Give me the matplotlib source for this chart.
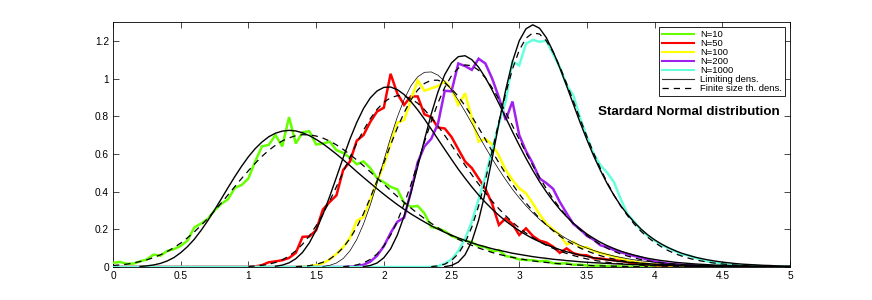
import numpy as np
import matplotlib
matplotlib.use("Agg")
import matplotlib.pyplot as plt

STEP = 0.05
X_MIN, X_MAX = 0.0, 5.0
series_names = ["N=10", "N=50", "N=100", "N=200", "N=1000"]
series_colors = ["#66ff00", "#ff0000", "#ffff00", "#a020f0", "#66ffdd"]

# empirical histograms (start x, values); zero outside the listed range
hist10_start = 0.0
hist10 = [0.022, 0.027, 0.017, 0.018, 0.030, 0.040, 0.066, 0.060, 0.085, 0.095,
          0.112, 0.140, 0.210, 0.230, 0.255, 0.300, 0.335, 0.360, 0.420, 0.435,
          0.470, 0.560, 0.640, 0.648, 0.700, 0.640, 0.795, 0.655, 0.715, 0.720,
          0.650, 0.655, 0.665, 0.620, 0.605, 0.580, 0.545, 0.560, 0.525, 0.470,
          0.450, 0.425, 0.412, 0.340, 0.320, 0.324, 0.285, 0.212, 0.205, 0.190,
          0.165, 0.150, 0.140, 0.132, 0.110, 0.106, 0.082, 0.090, 0.058, 0.052,
          0.040, 0.037, 0.036, 0.030, 0.033, 0.020, 0.018, 0.020, 0.012, 0.012,
          0.008, 0.006, 0.008, 0.004, 0.004, 0.003, 0.002, 0.002, 0.001, 0.002]
hist50_start = 1.05
hist50 = [0.003, 0.010, 0.025, 0.030, 0.036, 0.048, 0.075, 0.160, 0.162, 0.195,
          0.305, 0.345, 0.380, 0.515, 0.560, 0.670, 0.700, 0.770, 0.825, 0.845,
          1.025, 0.920, 0.860, 0.905, 0.905, 0.810, 0.795, 0.740, 0.735, 0.690,
          0.625, 0.560, 0.525, 0.470, 0.415, 0.335, 0.223, 0.258, 0.228, 0.170,
          0.205, 0.165, 0.140, 0.130, 0.108, 0.075, 0.099, 0.073, 0.064, 0.062,
          0.046, 0.045, 0.040, 0.036, 0.033, 0.026, 0.020, 0.016, 0.013, 0.010,
          0.008, 0.006, 0.004, 0.003, 0.002]
hist100_start = 1.40
hist100 = [0.002, 0.004, 0.010, 0.020, 0.040, 0.070, 0.105, 0.155, 0.245, 0.265,
           0.355, 0.455, 0.540, 0.655, 0.765, 0.780, 0.885, 0.990, 0.935, 0.948,
           0.960, 0.984, 0.945, 0.860, 0.922, 0.790, 0.665, 0.680, 0.650, 0.590,
           0.515, 0.462, 0.418, 0.391, 0.338, 0.280, 0.230, 0.200, 0.170, 0.120,
           0.134, 0.105, 0.105, 0.085, 0.074, 0.065, 0.055, 0.045, 0.034, 0.028,
           0.022, 0.016, 0.014, 0.011, 0.009, 0.006, 0.005, 0.004, 0.003, 0.002]
hist200_start = 1.75
hist200 = [0.002, 0.005, 0.012, 0.028, 0.060, 0.110, 0.180, 0.240, 0.262, 0.400,
           0.555, 0.640, 0.680, 0.760, 0.935, 0.932, 1.080, 1.066, 1.046, 1.105,
           1.080, 1.000, 0.900, 0.780, 0.878, 0.700, 0.615, 0.550, 0.470, 0.445,
           0.415, 0.345, 0.285, 0.228, 0.200, 0.165, 0.145, 0.115, 0.105, 0.090,
           0.078, 0.068, 0.058, 0.050, 0.038, 0.030, 0.023, 0.018, 0.014, 0.012,
           0.009, 0.007, 0.005, 0.004, 0.003, 0.002]
hist1000_start = 2.35
hist1000 = [0.001, 0.004, 0.018, 0.040, 0.085, 0.150, 0.240, 0.360, 0.480, 0.620,
            0.760, 0.880, 1.090, 1.070, 1.185, 1.205, 1.195, 1.200, 1.130, 1.060,
            0.965, 0.910, 0.790, 0.690, 0.600, 0.540, 0.500, 0.450, 0.360, 0.280,
            0.240, 0.195, 0.165, 0.140, 0.117, 0.100, 0.085, 0.066, 0.062, 0.048,
            0.037, 0.028, 0.022, 0.016, 0.013, 0.010, 0.008, 0.006, 0.005, 0.004,
            0.003, 0.002, 0.002, 0.001]

# finite-size theoretical densities (values x1000)
fin10_start = 0.0
fin10 = [8,11,15,21,29,38,50,65,82,103,127,155,186,221,258,298,340,383,427,470,511,550,587,619,646,669,685,697,702,701,695,684,668,648,624,597,568,537,505,472,439,406,374,343,313,284,257,232,208,186,166,147,130,115,101,89,77,67,59,51,44,38,32,28,24,20,17,15,12,10,9,7,6,5,4,4,3,2,2,2]
fin50_start = 1.0
fin50 = [3,5,9,15,24,38,58,86,121,165,219,281,350,426,504,582,657,726,787,837,874,898,909,907,893,869,835,794,748,698,646,593,540,489,440,393,349,309,272,238,207,180,156,134,115,99,84,72,61,51,43,36,30,25,21,18,15,12,10,8,7,5,4,4,3,2,2,2]
fin100_start = 1.35
fin100 = [2,4,7,14,25,42,67,103,151,211,283,367,458,553,648,738,819,887,939,974,991,991,976,946,905,855,799,739,677,614,553,495,439,388,340,297,258,223,192,164,140,119,101,85,72,60,50,42,35,29,24,20,16,13,11,9,7,6,5,4,3,2,2,2]
fin200_start = 1.70
fin200 = [2,5,11,22,40,69,111,169,243,334,437,549,663,772,871,953,1015,1055,1072,1068,1044,1004,951,889,821,750,677,607,539,475,416,362,313,269,230,196,167,141,119,99,83,69,58,48,39,32,27,22,18,14,12,10,8,6,5,4,3,3,2,2]
fin1000_start = 2.35
fin1000 = [2,6,15,35,70,128,212,324,461,614,772,921,1050,1150,1214,1242,1236,1200,1140,1063,974,880,785,692,604,522,448,381,323,272,227,189,157,130,107,87,71,58,47,38,31,25,20,16,13,10,8,6,5,4,3,2,2]

# limiting densities (values x1000)
lim10_start = 0.20
lim10 = [3,6,11,19,32,50,76,108,147,194,246,303,362,422,480,535,585,628,663,691,710,721,725,722,712,697,677,654,627,599,569,538,506,475,445,415,386,358,331,306,282,260,239,219,201,184,169,154,141,128,117,107,97,89,81,73,67,61,55,50,46,41,38,34,31,28,25,23,21,19,17,16,14,13,12,11,10,9,8,7,6,6,5,5,4,3,3,3,2,2,2,2,2,1,1,1,1]
lim50_start = 1.20
lim50 = [4,10,22,44,78,128,196,278,374,476,580,679,767,841,897,934,953,955,941,915,878,834,785,732,678,624,571,519,471,425,382,343,307,274,244,217,193,171,151,134,118,105,92,81,72,63,56,49,43,38,33,29,26,23,20,18,15,14,12,10,9,8,7,6,5,5,4,4,3,3,3,2,2,2]
lim100_start = 1.55
lim100 = [3,9,21,45,86,146,228,329,444,566,686,796,889,961,1009,1033,1035,1018,985,940,885,825,762,698,635,574,517,463,412,367,325,287,253,223,196,172,150,131,115,100,88,76,67,58,51,44,38,33,29,25,22,19,17,14,13,11,9,8,7,6,5,5,4,4,3,3,2,2,2,2]
lim200_start = 1.85
lim200 = [2,8,21,49,96,170,270,393,532,675,811,929,1021,1083,1116,1121,1100,1060,1005,939,867,793,718,646,577,513,453,399,350,306,267,232,202,175,152,131,113,98,84,73,63,54,46,40,34,30,25,22,19,16,14,12,10,9,8,6,6,5,4,4,3,3,2,2]
lim1000_start = 2.45
lim1000 = [2,8,26,65,136,248,398,575,763,940,1090,1200,1264,1285,1267,1217,1144,1056,961,863,766,675,589,512,442,380,325,278,237,201,170,144,122,103,87,73,62,52,44,37,31,26,22,18,15,13,11,9,8,6,5,5]

x_ticks = [0, 0.5, 1, 1.5, 2, 2.5, 3, 3.5, 4, 4.5, 5]
x_ticklabels = ["0", "0.5", "1", "1.5", "2", "2.5", "3", "3.5", "4", "4.5", "5"]
y_ticks = [0, 0.2, 0.4, 0.6, 0.8, 1.0, 1.2]
y_ticklabels = ["0", "0.2", "0.4", "0.6", "0.8", "1", "1.2"]
annotation = "Stardard Normal distribution"
legend_limit = "Limiting dens."
legend_finite = "Finite size th. dens."


def xs(start, vals):
    return start + STEP * np.arange(len(vals))


def full_range(start, vals):
    """histogram line over the whole x range, zero outside the listed bins"""
    x = xs(start, vals)
    n_before = int(round((start - X_MIN) / STEP))
    n_after = int(round((X_MAX - x[-1]) / STEP))
    xb = X_MIN + STEP * np.arange(n_before)
    xa = x[-1] + STEP * np.arange(1, n_after + 1)
    return (np.concatenate([xb, x, xa]),
            np.concatenate([np.zeros(n_before), vals, np.zeros(n_after)]))


plt.rcParams["font.family"] = ["Liberation Sans", "DejaVu Sans"]
fig = plt.figure(figsize=(8.72, 3.0), dpi=100)
ax = fig.add_axes([0.1296, 0.11, 0.7764, 0.8167])

hists = [(hist10_start, hist10), (hist50_start, hist50), (hist100_start, hist100),
         (hist200_start, hist200), (hist1000_start, hist1000)]
fins = [(fin10_start, fin10), (fin50_start, fin50), (fin100_start, fin100),
        (fin200_start, fin200), (fin1000_start, fin1000)]
lims = [(lim10_start, lim10), (lim50_start, lim50), (lim100_start, lim100),
        (lim200_start, lim200), (lim1000_start, lim1000)]

handles = []
for (s, v), name, col in zip(hists, series_names, series_colors):
    hx, hy = full_range(s, v)
    h, = ax.plot(hx, hy, color=col, lw=1.8, label=name, zorder=3,
                 solid_joinstyle="miter")
    handles.append(h)
for i, (s, v) in enumerate(lims):
    h, = ax.plot(xs(s, v), np.array(v) / 1000.0, color="black",
                 lw=0.5 if i == 2 else 1.0, zorder=4, label=legend_limit)
    if i == 0:
        handles.append(h)
for i, (s, v) in enumerate(fins):
    h, = ax.plot(xs(s, v), np.array(v) / 1000.0, color="black", lw=0.9,
                 ls=(0, (5, 4)), zorder=4, label=legend_finite)
    if i == 0:
        handles.append(h)

ax.set_xlim(X_MIN, X_MAX)
ax.set_ylim(0, 1.3)
ax.set_xticks(x_ticks)
ax.set_xticklabels(x_ticklabels)
ax.set_yticks(y_ticks)
ax.set_yticklabels(y_ticklabels)
ax.tick_params(direction="in", length=4, width=0.5, top=True, right=True,
               labelsize=7.3, pad=3)
for sp in ax.spines.values():
    sp.set_linewidth(0.6)

leg = ax.legend(handles=handles, loc="upper right", bbox_to_anchor=(0.993, 0.981),
                borderaxespad=0, fontsize=6.8, handlelength=3.4, handletextpad=0.6,
                labelspacing=0.0, borderpad=0.35, fancybox=False, framealpha=1,
                edgecolor="black")
leg.get_frame().set_linewidth(0.6)
for h in leg.legend_handles[:5]:
    h.set_linewidth(1.5)
leg.legend_handles[5].set_linewidth(0.8)
leg.legend_handles[5].set_color("#333333")

ax.text(4.25, 0.823, annotation, ha="center", va="center", fontsize=9.6,
        fontweight="bold", zorder=6)

fig.savefig("out.png", dpi=100)
